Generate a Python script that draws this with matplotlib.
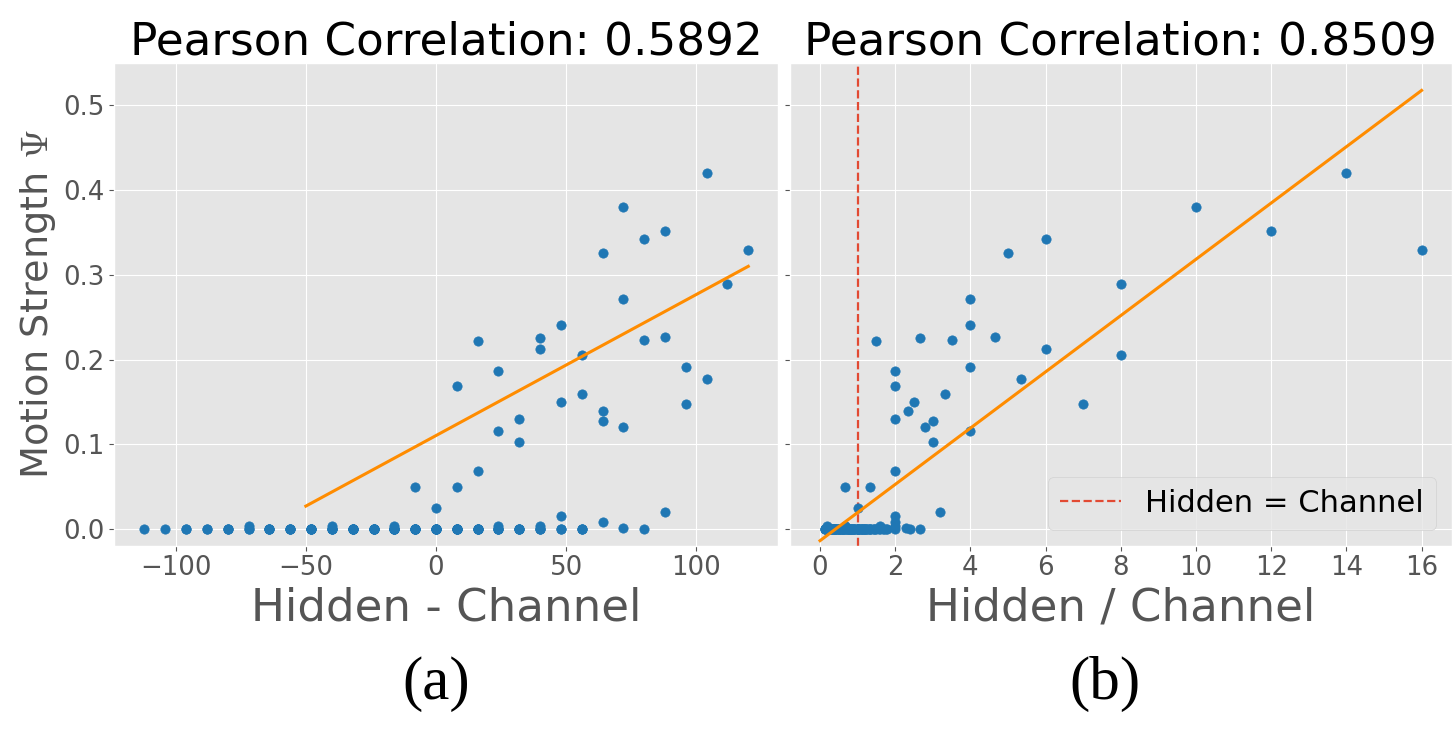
import numpy as np
import matplotlib
matplotlib.use('Agg')
import matplotlib.pyplot as plt

plt.style.use('ggplot')
plt.rcParams['mathtext.fontset'] = 'cm'

# grid of settings: hidden size per row, channel size per column
hidden = [16, 32, 48, 64, 80, 96, 112, 128]
channel = [8, 16, 24, 32, 40, 48, 56, 64, 72, 80, 88, 96, 104, 112, 120, 128]

# motion strength psi, one row per hidden size (columns follow `channel`)
psi = [
    [0.169, 0.0, 0.050, 0.0, 0.0, 0.0, 0.0, 0.0, 0.0, 0.0, 0.003, 0.0, 0.0, 0.0, 0.0, 0.0],
    [0.116, 0.068, 0.049, 0.0, 0.0, 0.003, 0.0, 0.0, 0.0, 0.0, 0.0, 0.0, 0.0, 0.0, 0.0, 0.0],
    [0.212, 0.103, 0.186, 0.2215, 0.0, 0.0245, 0.0, 0.0, 0.0, 0.0, 0.0, 0.0, 0.0, 0.0, 0.0, 0.0],
    [0.205, 0.241, 0.225, 0.130, 0.003, 0.0, 0.0, 0.0, 0.0, 0.0, 0.0, 0.0, 0.0, 0.0, 0.0, 0.0],
    [0.380, 0.326, 0.159, 0.150, 0.004, 0.0, 0.0, 0.0, 0.0, 0.0, 0.0, 0.0, 0.0, 0.0, 0.003, 0.0],
    [0.352, 0.342, 0.272, 0.128, 0.0, 0.0155, 0.0, 0.0, 0.0, 0.0, 0.0, 0.0, 0.0, 0.0, 0.0, 0.0],
    [0.420, 0.148, 0.227, 0.223, 0.120, 0.139, 0.0, 0.0, 0.0, 0.0, 0.0, 0.0, 0.0, 0.0, 0.0, 0.0],
    [0.329, 0.289, 0.177, 0.191, 0.0206, 0.0, 0.0014, 0.0077, 0.0, 0.0, 0.0, 0.0, 0.0, 0.0, 0.0, 0.0],
]

# fitted lines
fit_diff_x = [-50, 120]
fit_diff_y = [0.027, 0.310]
fit_ratio_x = [0, 16]
fit_ratio_y = [-0.0138, 0.5176]

titles = ['Pearson Correlation: 0.5892', 'Pearson Correlation: 0.8509']

H, C = np.meshgrid(hidden, channel, indexing='ij')
diff = (H - C).ravel()
ratio = (H / C).ravel()
y = np.array(psi).ravel()

fig = plt.figure(figsize=(14.54, 7.51), dpi=100)
ax1 = fig.add_axes([0.0786, 0.2734, 0.4568, 0.6423])
ax2 = fig.add_axes([0.5433, 0.2734, 0.4551, 0.6423], sharey=ax1)

ax1.scatter(diff, y, s=45, color='#1f77b4', zorder=3)
ax1.plot(fit_diff_x, fit_diff_y, color='darkorange', lw=2.2, zorder=4)
ax1.set_title(titles[0], fontsize=32.6, color='black')
ax1.set_xlabel('Hidden - Channel', fontsize=32.5)
ax1.set_ylabel(r'Motion Strength $\Psi$', fontsize=27.5)
ax1.set_xlim(-123.6, 131.6)

ax2.scatter(ratio, y, s=45, color='#1f77b4', zorder=3)
ax2.plot(fit_ratio_x, fit_ratio_y, color='darkorange', lw=2.2, zorder=4)
ax2.axvline(1, color='#e24a33', ls='--', lw=1.6, label='Hidden = Channel', zorder=2)
ax2.set_title(titles[1], fontsize=32.6, color='black')
ax2.set_xlabel('Hidden / Channel', fontsize=32.5)
ax2.set_xlim(-0.8, 16.8)
ax2.set_xticks(range(0, 17, 2))
ax2.legend(loc='lower right', fontsize=22)
plt.setp(ax2.get_yticklabels(), visible=False)

ax1.set_ylim(-0.0197, 0.5496)
ax1.set_yticks([0.0, 0.1, 0.2, 0.3, 0.4, 0.5])
for ax in (ax1, ax2):
    ax.tick_params(labelsize=18.7)

fig.text(0.2998, 0.089, '(a)', fontsize=44, family='Liberation Serif', ha='center', va='center')
fig.text(0.760, 0.089, '(b)', fontsize=44, family='Liberation Serif', ha='center', va='center')

fig.savefig('out.png', dpi=100)
